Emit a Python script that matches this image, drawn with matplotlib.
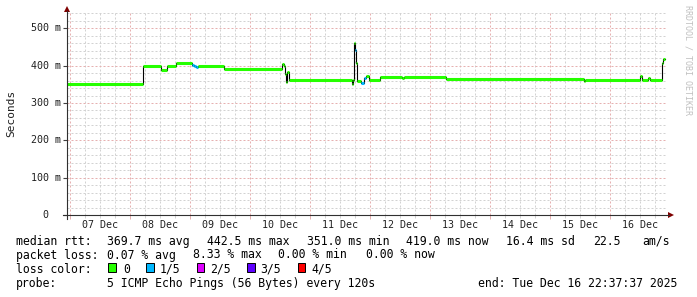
import matplotlib
matplotlib.use("Agg")
import matplotlib.pyplot as plt
from matplotlib.lines import Line2D
from matplotlib.patches import Polygon, Rectangle
from matplotlib.ticker import MultipleLocator, FixedLocator

W, H = 697, 297
MONO = "DejaVu Sans Mono"

# median rtt (ms) as steps: hours since start (Tue Dec 06 22:37:37) -> value, loss level
hours = [0, 30.3, 37.4, 40.0, 43.6, 50.0, 50.8, 51.6, 52.4, 62.6,
         86.0, 86.6, 87.2, 87.6, 88.0, 88.6, 114.0, 114.4, 114.8, 115.2,
         115.6, 116.0, 117.6, 118.6, 119.4, 120.8, 125.2, 134.0, 134.8, 151.6,
         206.8, 207.2, 229.2, 230.0, 232.4, 233.2, 237.8, 238.4]
median_ms = [351.5, 400, 388, 400, 406, 403, 399, 396, 399, 391,
             405, 398, 378, 355, 383, 362, 352, 361, 461, 442,
             406, 358, 353, 367, 372, 361, 370, 366, 370, 363,
             359, 362, 373, 361, 366, 362, 408, 419]
loss = [0, 0, 0, 0, 0, 1, 1, 1, 0, 0,
        0, 0, 0, 0, 0, 0, 0, 0, 0, 1,
        0, 0, 1, 1, 0, 0, 0, 0, 0, 0,
        0, 0, 0, 0, 0, 0, 0, 0]
data_end = 239.2

loss_colors = ["#26ff00", "#00b8ff", "#dd00ff", "#5e00ff", "#ff0000"]
loss_labels = ["0", "1/5", "2/5", "3/5", "4/5"]

day_labels = ["07 Dec", "08 Dec", "09 Dec", "10 Dec", "11 Dec",
              "12 Dec", "13 Dec", "14 Dec", "15 Dec", "16 Dec"]
first_midnight = 1.3731  # hours from start to Dec 07 00:00

y_ticks = [0, 100, 200, 300, 400, 500]

median_parts = [(16, "median rtt:"), (107, "369.7 ms avg"), (207, "442.5 ms max"),
                (307, "351.0 ms min"), (406.5, "419.0 ms now"), (506.5, "16.4 ms sd"),
                (593, "22.5"), (642, "am/s")]
loss_parts = [(16, "packet loss:"), (107, "0.07 % avg"), (193, "8.33 % max"),
              (278.5, "0.00 % min"), (365.5, "0.00 % now")]
probe_parts = [(16, "probe:"), (107, "5 ICMP Echo Pings (56 Bytes) every 120s"),
               (478, "end: Tue Dec 16 22:37:37 2025")]


def px(x, y):
    return x / W, 1 - y / H


fig = plt.figure(figsize=(W / 100, H / 100), dpi=100)
fig.patch.set_facecolor("white")
ax = fig.add_axes([67 / W, (H - 215) / H, 600 / W, 202 / H])
ax.set_xlim(0, 240)
ax.set_ylim(0, 541)
for s in ax.spines.values():
    s.set_visible(False)

# grid
midnights = [first_midnight + 24 * i for i in range(10)]
ax.xaxis.set_major_locator(FixedLocator(midnights))
ax.xaxis.set_minor_locator(FixedLocator([first_midnight - 24 + 6 * i for i in range(45)
                                         if 0 < first_midnight - 24 + 6 * i < 240]))
ax.yaxis.set_major_locator(MultipleLocator(100))
ax.yaxis.set_minor_locator(MultipleLocator(20))
ax.grid(which="minor", color="#d2d2d2", linestyle=(0, (2, 2)), linewidth=0.72)
ax.grid(which="major", color="#e6b0b0", linestyle=(0, (2, 2)), linewidth=0.72)
ax.set_axisbelow(True)
ax.tick_params(axis="x", which="major", length=3, width=0.72, color="#e6b0b0", labelbottom=False)
ax.tick_params(axis="x", which="minor", length=2, width=0.72, color="#d2d2d2")
ax.tick_params(axis="y", which="major", length=3, width=0.8, color="#404040", labelleft=False)
ax.tick_params(axis="y", which="minor", length=0)

# median line: black steps underneath, loss-coloured flats on top
edges = hours + [data_end]
ax.step(edges, median_ms + [median_ms[-1]], where="post", color="black", lw=0.8, zorder=3)
ax.hlines(median_ms, hours, edges[1:], colors=[loss_colors[l] for l in loss],
          lw=2.2, zorder=4)

# axis lines and arrows
fig.add_artist(Line2D(*zip(px(63, 215), px(669, 215)), color="#303030", lw=0.8))
fig.add_artist(Line2D(*zip(px(67, 219), px(67, 11)), color="#303030", lw=0.8))
fig.add_artist(Polygon([px(668, 212), px(668, 218), px(674, 215)], closed=True,
                       color="#7f0000", lw=0))
fig.add_artist(Polygon([px(64, 12), px(70, 12), px(67, 6)], closed=True,
                       color="#7f0000", lw=0))

# tick labels
for i, lab in enumerate(day_labels):
    x = 67 + (first_midnight + 24 * i + 12) / 240 * 600
    fig.text(*px(x, 224.5), lab, ha="center", va="center", family=MONO,
             fontsize=7.2, color="#202020")
for v in y_ticks:
    y = 215 - v * 202 / 541
    lab = f"{v} m" if v else "0"
    fig.text(*px(61 if v else 48, y), lab, ha="right", va="center", family=MONO,
             fontsize=7.2, color="#202020")
fig.text(*px(11, 113), "Seconds", rotation=90, ha="center", va="center",
         family=MONO, fontsize=8, color="#202020")

# watermark
fig.text(*px(688, 60), "RRDTOOL / TOBI OETIKER", rotation=270, ha="center", va="center",
         family=MONO, fontsize=6, color="#c0c0c0")

# legend
for row_y, parts in [(241.5, median_parts), (255, loss_parts), (283.3, probe_parts)]:
    for x, t in parts:
        fig.text(*px(x, row_y), t, ha="left", va="center", family=MONO,
                 fontsize=8.3, color="black")
fig.text(*px(16, 269.3), "loss color:", ha="left", va="center", family=MONO,
         fontsize=8.3, color="black")
box_x = [108.3, 146, 196.7, 247.3, 297.7]
label_x = [123.3, 160, 210.5, 260.5, 311.7]
for bx, lx, c, lab in zip(box_x, label_x, loss_colors, loss_labels):
    fig.add_artist(Rectangle(px(bx, 271.7), 7.7 / W, 8.4 / H, facecolor=c,
                             edgecolor="black", lw=0.7))
    fig.text(*px(lx, 269.3), lab, ha="left", va="center", family=MONO,
             fontsize=8.3, color="black")

fig.savefig("out.png", dpi=100)
